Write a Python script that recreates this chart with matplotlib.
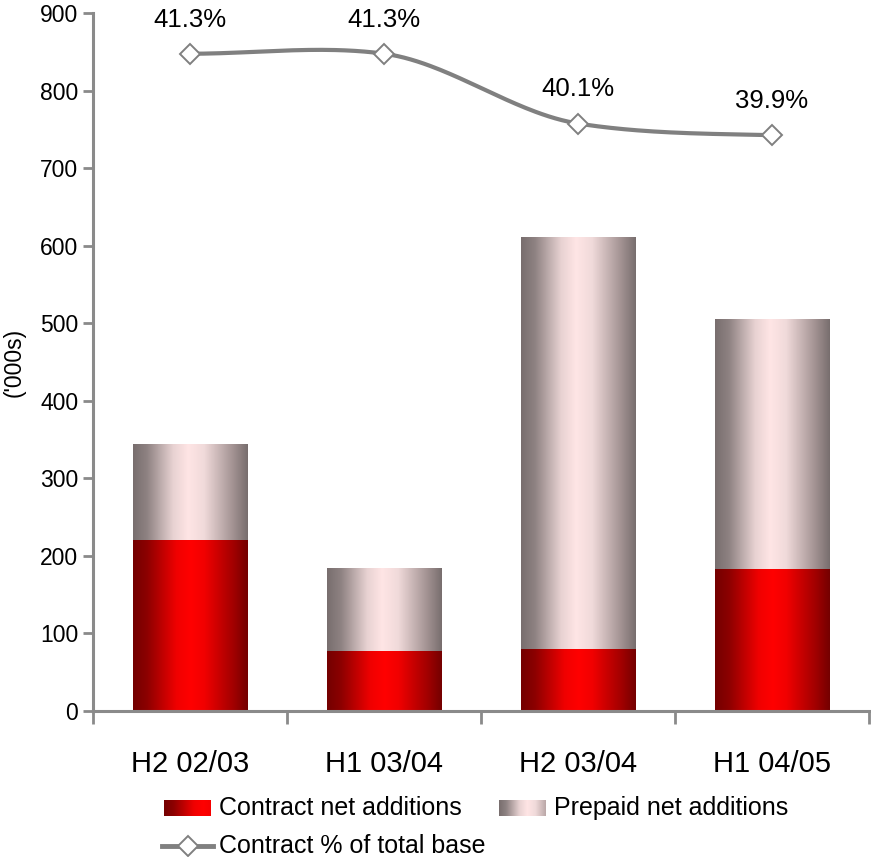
import numpy as np
import matplotlib
matplotlib.use("Agg")
import matplotlib.pyplot as plt
from matplotlib.colors import LinearSegmentedColormap
from matplotlib.lines import Line2D

plt.rcParams['font.family'] = ['Liberation Sans', 'DejaVu Sans']

# Net additions ('000s) and contract share of total base
periods = ["H2 02/03", "H1 03/04", "H2 03/04", "H1 04/05"]
contract_adds = [220, 77, 80, 183]
prepaid_adds = [123, 107, 531, 322]
contract_pct = [41.3, 41.3, 40.1, 39.9]
pct_labels = ["41.3%", "41.3%", "40.1%", "39.9%"]

GREY = "#8a8a8a"

red_cmap = LinearSegmentedColormap.from_list(
    "red_cyl", [(0.0, "#740000"), (0.12, "#8c0000"), (0.38, "#f00000"),
                (0.50, "#ff0000"), (0.62, "#f20000"), (0.88, "#a00000"),
                (1.0, "#740000")])
pink_cmap = LinearSegmentedColormap.from_list(
    "pink_cyl", [(0.0, "#786e6e"), (0.12, "#8e8282"), (0.35, "#e8d2d2"),
                 (0.48, "#ffe5e5"), (0.62, "#f0dada"), (0.88, "#a09090"),
                 (1.0, "#786e6e")])


def fill_gradient(ax, patches, cmap, z):
    ramp = np.linspace(0, 1, 256).reshape(1, -1)
    for p in patches:
        x0, y0 = p.get_x(), p.get_y()
        ax.imshow(ramp, cmap=cmap, aspect='auto', interpolation='bilinear',
                  extent=(x0, x0 + p.get_width(), y0, y0 + p.get_height()),
                  zorder=z)


def smooth_curve(ys, n=60, tension=0.75):
    # Cardinal spline through equally spaced points
    ys = np.asarray(ys, float)
    padded = np.concatenate(([ys[0]], ys, [ys[-1]]))
    xs_out, ys_out = [], []
    for i in range(len(ys) - 1):
        p0, p1, p2, p3 = padded[i:i + 4]
        m1 = tension * (p2 - p0) / 2
        m2 = tension * (p3 - p1) / 2
        t = np.linspace(0, 1, n)
        h00 = 2 * t**3 - 3 * t**2 + 1
        h10 = t**3 - 2 * t**2 + t
        h01 = -2 * t**3 + 3 * t**2
        h11 = t**3 - t**2
        xs_out.append(i + t)
        ys_out.append(h00 * p1 + h10 * m1 + h01 * p2 + h11 * m2)
    return np.concatenate(xs_out), np.concatenate(ys_out)


fig = plt.figure(figsize=(8.71, 8.57), dpi=100)
ax = fig.add_axes([0.1073, 0.1704, 0.8904, 0.8144])

x = np.arange(len(periods))
bw = 0.59
b1 = ax.bar(x, contract_adds, bw, color='none', edgecolor='none')
b2 = ax.bar(x, prepaid_adds, bw, bottom=contract_adds, color='none',
            edgecolor='none')
fill_gradient(ax, b1, red_cmap, 2)
fill_gradient(ax, b2, pink_cmap, 2)

ax.set_xlim(-0.5, len(periods) - 0.5)
ax.set_ylim(0, 900)
ax.set_yticks(range(0, 901, 100))
ax.tick_params(axis='y', direction='out', length=7, width=2, color=GREY,
               labelsize=16.5, pad=4)
ax.set_xticks(np.arange(-0.5, len(periods), 1.0))
ax.set_xticklabels([])
ax.set_xticks(x, minor=True)
ax.set_xticklabels(periods, minor=True)
ax.tick_params(axis='x', which='major', direction='out', length=9, width=2,
               color=GREY)
ax.tick_params(axis='x', which='minor', length=0, labelsize=21, pad=28)
for side in ('top', 'right'):
    ax.spines[side].set_visible(False)
for side in ('left', 'bottom'):
    ax.spines[side].set_color(GREY)
    ax.spines[side].set_linewidth(2.2)
ax.set_ylabel("('000s)", fontsize=16.5, labelpad=10)

# contract share on a hidden secondary scale
ax2 = ax.twinx()
ax2.set_ylim(30, 42)
ax2.set_axis_off()
sx, sy = smooth_curve(contract_pct)
ax2.plot(sx, sy, color="#808080", lw=3, zorder=3, solid_capstyle='round')
ax2.plot(x, contract_pct, ls='none', marker='D', ms=10, mfc='white',
         mec="#808080", mew=1.4, zorder=4)
for xi, yi, lab in zip(x, contract_pct, pct_labels):
    ax2.annotate(lab, (xi, yi), xytext=(0, 16), textcoords='offset points',
                 ha='center', va='bottom', fontsize=18.5)

# legend drawn by hand so the swatches keep their gradients
W, H = fig.get_size_inches() * fig.dpi
ramp = np.linspace(0, 1, 256).reshape(1, -1)


def swatch(x0, x1, y0, y1, cmap, lo, hi):
    sax = fig.add_axes([x0 / W, 1 - y1 / H, (x1 - x0) / W, (y1 - y0) / H])
    sax.imshow(ramp[:, int(lo * 255):int(hi * 255)], cmap=cmap,
               vmin=0, vmax=1, aspect='auto', interpolation='bilinear')
    sax.set_axis_off()


swatch(164, 211, 800, 816, red_cmap, 0.0, 0.6)
swatch(499, 546, 800, 816, pink_cmap, 0.0, 0.8)
fig.text(219 / W, 1 - 808 / H, "Contract net additions", fontsize=18,
         va='center', ha='left')
fig.text(554 / W, 1 - 808 / H, "Prepaid net additions", fontsize=18,
         va='center', ha='left')
fig.add_artist(Line2D([162 / W, 213 / W], [1 - 846 / H, 1 - 846 / H],
                      color="#808080", lw=3.5, transform=fig.transFigure))
fig.add_artist(Line2D([188 / W], [1 - 846 / H], ls='none', marker='D', ms=10,
                      mfc='white', mec="#808080", mew=1.4,
                      transform=fig.transFigure))
fig.text(219 / W, 1 - 846 / H, "Contract % of total base", fontsize=18,
         va='center', ha='left')

fig.savefig("out.png", dpi=100)
